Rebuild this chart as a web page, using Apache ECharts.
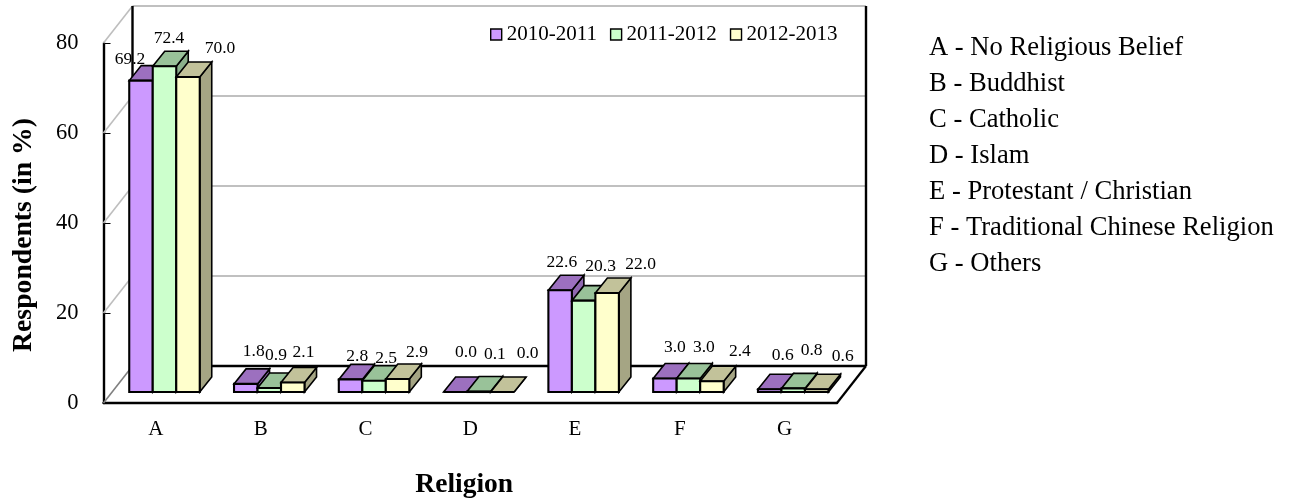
<!DOCTYPE html>
<html><head><meta charset="utf-8">
<style>html,body{margin:0;padding:0;background:#fff}#c{width:1292px;height:499px}</style>
<script src="https://cdn.jsdelivr.net/npm/echarts@6/dist/echarts.min.js"></script>
</head><body><div id="c"></div>
<script>
const categories = ['A','B','C','D','E','F','G'];
const seriesNames = ['2010-2011','2011-2012','2012-2013'];
const values2010 = [69.2,1.8,2.8,0.0,22.6,3.0,0.6];
const values2011 = [72.4,0.9,2.5,0.1,20.3,3.0,0.8];
const values2012 = [70.0,2.1,2.9,0.0,22.0,2.4,0.6];
const yTicks = [0,20,40,60,80];
const religionKey = ['A - No Religious Belief','B - Buddhist','C - Catholic','D - Islam','E - Protestant / Christian','F - Traditional Chinese Religion','G - Others'];
// hand placement of the value labels relative to each bar's top (Excel moved them individually)
const labelNudge2010 = [[-11,-21.6],[8,-32],[6.7,-23.4],[10.6,-39.3],[1.8,-28],[10,-31],[13,-34]];
const labelNudge2011 = [[4.5,-28],[6.7,-33],[12,-22.7],[16,-37.5],[17,-34.6],[15.5,-31],[18.4,-38.4]];
const labelNudge2012 = [[32,-29],[10.7,-30.5],[19.4,-27],[25.3,-39],[33.5,-29],[28,-30],[26,-33]];

const allValues = [values2010, values2011, values2012];
const allNudges = [labelNudge2010, labelNudge2011, labelNudge2012];
const frontColors = ['#CC99FF','#CCFFCC','#FFFFCC'];
const topColors = ['#9C70BF','#99C299','#C2C29A'];
const sideColors = ['#8F68B0','#8BB08B','#A5A584'];
const SERIF = '"Liberation Serif","Times New Roman",serif';
const WALL_DX = 29, WALL_DY = -37;
const FLOOR_DX = 8.6, FLOOR_DY = -11;
const BAR_W = 23.5, BAR_DX = 12, BAR_DY = -15;

function line(x1,y1,x2,y2,color,w){
  return {type:'line',shape:{x1,y1,x2,y2},style:{stroke:color,lineWidth:w},silent:true};
}
function poly(points,fill,w){
  return {type:'polygon',shape:{points},style:{fill,stroke:'#000',lineWidth:w,lineJoin:'miter'},silent:true};
}
function renderFrame(params,api){
  const r = params.coordSys, L=r.x, R=r.x+r.width, children=[];
  yTicks.forEach(v=>{
    const y = api.coord([0,v])[1];
    if(v>0){
      children.push(line(L+WALL_DX,y+WALL_DY,R+WALL_DX,y+WALL_DY,'#C0C0C0',2));
      children.push(line(L,y,L+WALL_DX,y+WALL_DY,'#BEBEBE',1.6));
    }
  });
  const y0 = r.y+r.height, yT = r.y;
  children.push(line(L,y0,L+WALL_DX,y0+WALL_DY,'#808080',1.6));
  children.push(line(L+WALL_DX,yT+WALL_DY,L+WALL_DX,y0+WALL_DY,'#000',2.4));
  children.push(line(R+WALL_DX,yT+WALL_DY,R+WALL_DX,y0+WALL_DY,'#000',2.4));
  children.push(line(L+WALL_DX,y0+WALL_DY,R+WALL_DX,y0+WALL_DY,'#000',2.4));
  children.push(line(R,y0,R+WALL_DX,y0+WALL_DY,'#000',2.2));
  return {type:'group',children};
}
function makeBarRenderer(s){
  return function(params,api){
    const c = api.value(0), v = api.value(1);
    const p0 = api.coord([c,0]), p1 = api.coord([c,v]);
    const x0 = p0[0]+FLOOR_DX+(s-1.5)*BAR_W, x1 = x0+BAR_W;
    const yb = p0[1]+FLOOR_DY, yt = p1[1]+FLOOR_DY;
    return {type:'group',children:[
      poly([[x1,yb],[x1+BAR_DX,yb+BAR_DY],[x1+BAR_DX,yt+BAR_DY],[x1,yt]],sideColors[s],1.6),
      poly([[x0,yt],[x1,yt],[x1+BAR_DX,yt+BAR_DY],[x0+BAR_DX,yt+BAR_DY]],topColors[s],1.6),
      poly([[x0,yb],[x1,yb],[x1,yt],[x0,yt]],frontColors[s],2.1)
    ]};
  };
}
function renderLabel(params,api){
  const s = api.value(2), c = api.value(0), v = api.value(1);
  const p0 = api.coord([c,0]), p1 = api.coord([c,v]);
  const n = allNudges[s][c];
  return {type:'text',x:p0[0]+FLOOR_DX+(s-1)*BAR_W+n[0],y:p1[1]+FLOOR_DY+n[1],
    style:{text:v.toFixed(1),fill:'#000',font:'17.5px '+SERIF,align:'center',verticalAlign:'middle'},silent:true};
}
const labelData = [];
allValues.forEach((vals,s)=>vals.forEach((v,c)=>labelData.push([c,v,s])));

const chart = echarts.init(document.getElementById('c'),null,{renderer:'canvas',devicePixelRatio:1});
chart.setOption({
  animation:false,
  backgroundColor:'#fff',
  grid:{left:103.5,top:43,width:733.5,height:360,containLabel:false,outerBoundsMode:'none'},
  title:{text:religionKey.join('\n'),left:929,top:30,padding:0,
    textStyle:{fontFamily:SERIF,fontSize:26.6,fontWeight:'normal',color:'#000',lineHeight:36}},
  legend:{data:seriesNames,left:490,top:24,padding:0,itemWidth:11,itemHeight:11,itemGap:13,selectedMode:false,
    icon:'rect',textStyle:{fontFamily:SERIF,fontSize:21,color:'#000'},
    itemStyle:{borderColor:'#000',borderWidth:1.4}},
  xAxis:{type:'category',data:categories,name:'Religion',nameLocation:'middle',nameGap:68,
    nameTextStyle:{fontFamily:SERIF,fontSize:27.5,fontWeight:'bold',color:'#000',padding:[0,12,0,0]},
    axisLine:{lineStyle:{color:'#000',width:2.4}},
    axisTick:{inside:true,length:7,alignWithLabel:false,lineStyle:{color:'#000',width:1}},
    axisLabel:{fontFamily:SERIF,fontSize:21,color:'#000',margin:16},splitLine:{show:false}},
  yAxis:{type:'value',min:0,max:80,interval:20,name:'Respondents (in %)',nameLocation:'middle',nameGap:66,
    nameTextStyle:{fontFamily:SERIF,fontSize:27.7,fontWeight:'bold',color:'#000',padding:[0,24,0,0]},
    axisLine:{show:true,lineStyle:{color:'#000',width:2.4}},
    axisTick:{show:true,inside:true,length:7,lineStyle:{color:'#000',width:1}},
    axisLabel:{fontFamily:SERIF,fontSize:22.5,color:'#000',margin:25},splitLine:{show:false}},
  series:[
    {type:'custom',name:'frame',data:[[0,0]],renderItem:renderFrame,z:1,silent:true},
    ...seriesNames.map((name,s)=>({type:'custom',name,z:3+s,silent:true,
      itemStyle:{color:frontColors[s],borderColor:'#000',borderWidth:1.4},
      data:allValues[s].map((v,i)=>[i,v]),renderItem:makeBarRenderer(s),encode:{x:0,y:1}})),
    {type:'custom',name:'labels',z:10,silent:true,data:labelData,renderItem:renderLabel,encode:{x:0,y:1}}
  ]
});
</script></body></html>
